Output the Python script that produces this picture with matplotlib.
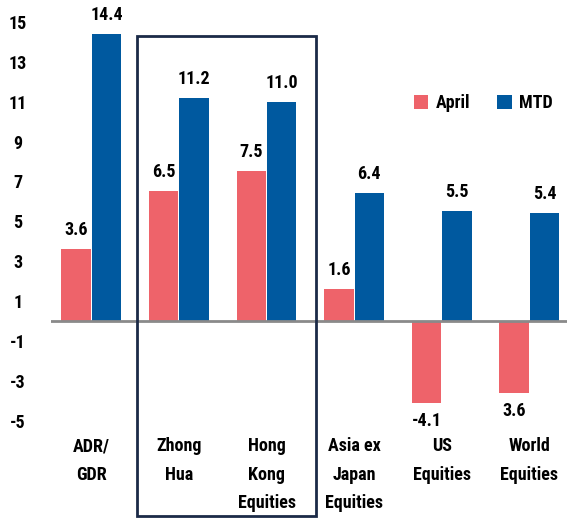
import matplotlib
matplotlib.use("Agg")
import matplotlib.pyplot as plt
from matplotlib.patches import Rectangle
import numpy as np
from matplotlib import font_manager

categories = ["ADR/\nGDR", "Zhong\nHua", "Hong\nKong\nEquities", "Asia ex\nJapan\nEquities", "US\nEquities", "World\nEquities"]
april = [3.6, 6.5, 7.5, 1.6, -4.1, -3.6]
mtd = [14.4, 11.2, 11.0, 6.4, 5.5, 5.4]
april_labels = ["3.6", "6.5", "7.5", "1.6", "-4.1", "3.6"]
mtd_labels = ["14.4", "11.2", "11.0", "6.4", "5.5", "5.4"]
yticks = [-5, -3, -1, 1, 3, 5, 7, 9, 11, 13, 15]

names = {f.name for f in font_manager.fontManager.ttflist}
fam = "Liberation Sans Narrow" if "Liberation Sans Narrow" in names else "Roboto Condensed" if "Roboto Condensed" in names else "Liberation Sans"
plt.rcParams['font.family'] = [fam, 'DejaVu Sans']

pink = "#EE636A"
blue = "#00599F"
FS = 13

fig = plt.figure(figsize=(5.67, 5.18), dpi=100)
W, H = 567, 518
ax_left, ax_right = 51, 567
y_top_px, y_bot_px = 22, 420.5
ax = fig.add_axes([ax_left / W, 1 - y_bot_px / H, (ax_right - ax_left) / W, (y_bot_px - y_top_px) / H])
ax.set_ylim(-5, 15)
ax.set_xlim(-0.46, 5.43)

x = np.arange(len(categories))
bw = 0.335
off = bw / 2 + 0.006
ax.bar(x - off, april, bw, color=pink, label="April", zorder=2)
ax.bar(x + off, mtd, bw, color=blue, label="MTD", zorder=2)

for i in range(len(categories)):
    if april[i] >= 0:
        ax.text(x[i] - off, april[i] + 0.5, april_labels[i], ha="center", va="bottom", fontsize=FS, fontweight="bold")
    else:
        ax.text(x[i] - off, april[i] - 0.45, april_labels[i], ha="center", va="top", fontsize=FS, fontweight="bold")
    ax.text(x[i] + off, mtd[i] + 0.5, mtd_labels[i], ha="center", va="bottom", fontsize=FS, fontweight="bold")

ax.axhline(0, color="#8a8a8a", lw=2, zorder=3)

for s in ax.spines.values():
    s.set_visible(False)
ax.set_yticks(yticks)
ax.set_yticklabels([str(t) for t in yticks], fontsize=FS, fontweight="bold")
for lbl in ax.get_yticklabels():
    lbl.set_horizontalalignment("center")
ax.tick_params(axis="y", length=0, pad=24)
ax.set_xticks(x)
ax.set_xticklabels(categories, fontsize=FS, fontweight="bold", linespacing=1.75, va="top")
ax.tick_params(axis="x", length=0, pad=12)

leg = ax.legend(loc="upper left", bbox_to_anchor=(0.672, 0.86), ncol=2, frameon=False,
                prop={"size": FS, "weight": "bold"}, handlelength=0.8, handleheight=0.8,
                columnspacing=1.5, handletextpad=0.4)

rect = Rectangle((137 / W, 2 / H), (316 - 137) / W, 1 - 38 / H, transform=fig.transFigure,
                 fill=False, edgecolor="#1B2A47", lw=2, zorder=5)
fig.patches.append(rect)

fig.savefig("out.png", dpi=100)
